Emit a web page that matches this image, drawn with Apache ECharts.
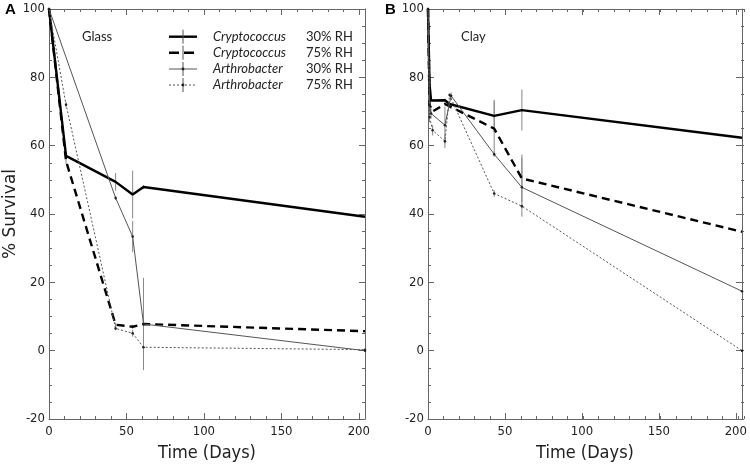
<!DOCTYPE html>
<html><head><meta charset="utf-8">
<script src="https://cdn.jsdelivr.net/npm/echarts@6/dist/echarts.min.js"></script>
<style>html,body{margin:0;padding:0;background:#fff}#c{width:750px;height:467px}</style>
</head><body><div id="c"></div>
<script>
// ---------- data ----------
const xTickLabels = [0, 50, 100, 150, 200];
const yTickLabels = [-20, 0, 20, 40, 60, 80, 100];
const speciesNames = ['Cryptococcus', 'Cryptococcus', 'Arthrobacter', 'Arthrobacter'];
const rhLabels = ['30% RH', '75% RH', '30% RH', '75% RH'];
const panelLetters = ['A', 'B'];
const panelSurfaces = ['Glass', 'Clay'];

// Panel A : Glass
const glassC30Days = [0, 11, 43, 54, 61, 204];
const glassC30 = [100, 57, 49.4, 45.7, 47.9, 39.2];
const glassC30Err = [0, 0.8, 2.6, 7, 0.6, 0];
const glassC75Days = [0, 11, 43, 54, 61, 204];
const glassC75 = [100, 55.5, 7.6, 7.0, 7.8, 5.7];
const glassC75Err = [0, 0.8, 0.6, 0.6, 0.6, 0];
const glassA30Days = [0, 43, 54, 61, 204];
const glassA30 = [100, 44.7, 33.4, 7.8, 0];
const glassA30Err = [0, 0.6, 4.6, 13.5, 0];
const glassA75Days = [0, 11, 43, 54, 61, 204];
const glassA75 = [100, 72, 6.5, 5.1, 1.0, 0.3];
const glassA75Err = [0, 0.8, 0.6, 1.0, 0.4, 0];

// Panel B : Clay
const clayC30Days = [0, 1, 2, 11, 14, 43, 61, 204];
const clayC30 = [100, 78, 73.2, 73.3, 72.2, 68.7, 70.4, 62.3];
const clayC30Err = [0, 0, 0, 0.5, 0.5, 4.7, 6, 0];
const clayC75Days = [0, 1, 3, 11, 15, 43, 61, 204];
const clayC75 = [100, 72, 70, 72.2, 71.3, 65.0, 50.4, 34.8];
const clayC75Err = [0, 0, 0, 0.5, 0.5, 8, 7, 0];
const clayA30Days = [0, 1, 2, 11, 15, 43, 61, 204];
const clayA30 = [100, 71.8, 69.4, 66.0, 74.6, 57.5, 47.8, 17.4];
const clayA30Err = [0, 1.5, 1.5, 5.4, 1.0, 0.8, 8.6, 0];
const clayA75Days = [0, 1, 3, 11, 14, 43, 61, 204];
const clayA75 = [100, 68.4, 64.5, 61.3, 74.8, 46.0, 42.3, 0];
const clayA75Err = [0, 1.5, 1.5, 2, 0.5, 1.0, 0.6, 0];

// ---------- styles ----------
const lineStyles = [
  {color: '#000', width: 2.4, type: 'solid'},
  {color: '#000', width: 2.4, type: [8, 5]},
  {color: '#555', width: 1, type: 'solid'},
  {color: '#555', width: 1, type: [2, 2]}
];
const showDots = [false, false, true, true];

const panels = [
  {days: [glassC30Days, glassC75Days, glassA30Days, glassA75Days],
   vals: [glassC30, glassC75, glassA30, glassA75],
   errs: [glassC30Err, glassC75Err, glassA30Err, glassA75Err], left: 49},
  {days: [clayC30Days, clayC75Days, clayA30Days, clayA75Days],
   vals: [clayC30, clayC75, clayA30, clayA75],
   errs: [clayC30Err, clayC75Err, clayA30Err, clayA75Err], left: 428}
];

const TOP = 9, H = 410, W = 316;
const XMAX = 204;
const AXC = '#666';
const LABFONT = 'DejaVu Sans Condensed, DejaVu Sans, sans-serif';

const grid = [], xAxis = [], yAxis = [], series = [];

panels.forEach((p, pi) => {
  grid.push({left: p.left, top: TOP, width: W, height: H});
  grid.push({left: p.left, top: TOP, width: W, height: H});
  const gMain = pi * 2, gMinor = pi * 2 + 1;

  const xBase = {min: xTickLabels[0], max: XMAX, interval: 50, splitLine: {show: false}};
  const yBase = {min: yTickLabels[0], max: yTickLabels[yTickLabels.length - 1], interval: 20, splitLine: {show: false}};
  const lineOn = {show: true, onZero: false, lineStyle: {color: AXC, width: 1}};
  const lineOff = {show: false, onZero: false};

  xAxis.push(Object.assign({}, xBase, {
    gridIndex: gMain, position: 'bottom', type: 'value',
    axisLine: lineOn,
    axisTick: {inside: true, length: 6, lineStyle: {color: AXC}},
    axisLabel: {show: true, showMaxLabel: false, fontSize: 13, color: '#222', margin: 6, fontFamily: LABFONT},
    name: 'Time (Days)', nameLocation: 'middle', nameGap: 25,
    nameTextStyle: {fontSize: 18, color: '#222', fontFamily: LABFONT}
  }));
  xAxis.push(Object.assign({}, xBase, {
    gridIndex: gMain, position: 'top', type: 'value',
    axisLine: lineOn,
    axisTick: {inside: true, length: 6, lineStyle: {color: AXC}},
    axisLabel: {show: false}
  }));
  yAxis.push(Object.assign({}, yBase, {
    gridIndex: gMain, position: 'left', type: 'value',
    axisLine: lineOn,
    axisTick: {inside: true, length: 6, lineStyle: {color: AXC}},
    axisLabel: {show: true, fontSize: 13, color: '#222', margin: 4, fontFamily: LABFONT},
    name: pi === 0 ? '% Survival' : '', nameLocation: 'middle', nameGap: 30, nameRotate: 90,
    nameTextStyle: {fontSize: 17, color: '#222', fontFamily: 'DejaVu Sans, sans-serif'}
  }));
  yAxis.push(Object.assign({}, yBase, {
    gridIndex: gMain, position: 'right', type: 'value',
    axisLine: lineOn,
    axisTick: {inside: true, length: 6, lineStyle: {color: AXC}},
    axisLabel: {show: false}
  }));
  ['bottom', 'top'].forEach(pos => xAxis.push(Object.assign({}, xBase, {
    gridIndex: gMinor, position: pos, type: 'value', interval: 10,
    axisLine: lineOff, axisTick: {inside: true, length: 3, lineStyle: {color: AXC}},
    axisLabel: {show: false}
  })));
  ['left', 'right'].forEach(pos => yAxis.push(Object.assign({}, yBase, {
    gridIndex: gMinor, position: pos, type: 'value', interval: 5,
    axisLine: lineOff, axisTick: {inside: true, length: 3, lineStyle: {color: AXC}},
    axisLabel: {show: false}
  })));

  const xi = pi * 4, yi = pi * 4;
  for (let s = 0; s < 4; s++) {
    const d = p.days[s], v = p.vals[s], e = p.errs[s];
    series.push({
      type: 'custom', xAxisIndex: xi, yAxisIndex: yi, z: 1, silent: true,
      data: d.map((x, i) => [x, v[i], e[i]]),
      renderItem: (params, api) => {
        const err = api.value(2);
        if (!(err > 0)) return null;
        const a = api.coord([api.value(0), api.value(1) + err]);
        const b = api.coord([api.value(0), api.value(1) - err]);
        return {type: 'line', shape: {x1: a[0], y1: a[1], x2: b[0], y2: b[1]},
                style: {stroke: '#888', lineWidth: 1}};
      }
    });
    series.push({
      type: 'line', xAxisIndex: xi, yAxisIndex: yi, z: 3, clip: false, silent: true,
      name: speciesNames[s] + ' ' + rhLabels[s],
      data: d.map((x, i) => [x, v[i]]),
      lineStyle: lineStyles[s],
      symbol: showDots[s] ? 'circle' : 'none', symbolSize: 2.5,
      itemStyle: {color: '#222'},
      showSymbol: showDots[s]
    });
  }
});

// ---------- graphic: panel letters, surfaces, legend ----------
const graphic = [];
const letterX = [11, 391];
panelLetters.forEach((L, i) => {
  graphic.push({type: 'text', left: letterX[i] - 6, top: 2,
    style: {text: L, font: 'bold 15px Liberation Sans, Arial, sans-serif', fill: '#000'}});
});
const surfX = [82, 461];
panelSurfaces.forEach((t, i) => {
  graphic.push({type: 'text', x: surfX[i], y: 37,
    style: {text: t, font: '13px Lato, sans-serif', fill: '#222', verticalAlign: 'middle'}});
});
const legRows = [36.7, 52.7, 69, 85];
for (let s = 0; s < 4; s++) {
  const y = legRows[s], ls = lineStyles[s];
  graphic.push({type: 'line', shape: {x1: 169, y1: y, x2: 197, y2: y},
    style: {stroke: ls.color, lineWidth: ls.width, lineDash: ls.type === 'solid' ? null : (s === 1 ? [10, 5] : ls.type)}});
  graphic.push({type: 'line', shape: {x1: 183, y1: y - 7, x2: 183, y2: y + 7},
    style: {stroke: '#555', lineWidth: 1}});
  if (showDots[s]) graphic.push({type: 'circle', shape: {cx: 183, cy: y, r: 1.4}, style: {fill: '#222'}});
  graphic.push({type: 'text', x: 213, y: y,
    style: {text: speciesNames[s], font: 'italic 13px Lato, sans-serif', fill: '#222', verticalAlign: 'middle'}});
  graphic.push({type: 'text', x: 306, y: y,
    style: {text: rhLabels[s], font: '13px Lato, sans-serif', fill: '#222', verticalAlign: 'middle'}});
}

const chart = echarts.init(document.getElementById('c'), null, {renderer: 'canvas'});
chart.setOption({
  backgroundColor: '#fff',
  animation: false,
  grid, xAxis, yAxis, series, graphic
});
</script>
</body></html>
